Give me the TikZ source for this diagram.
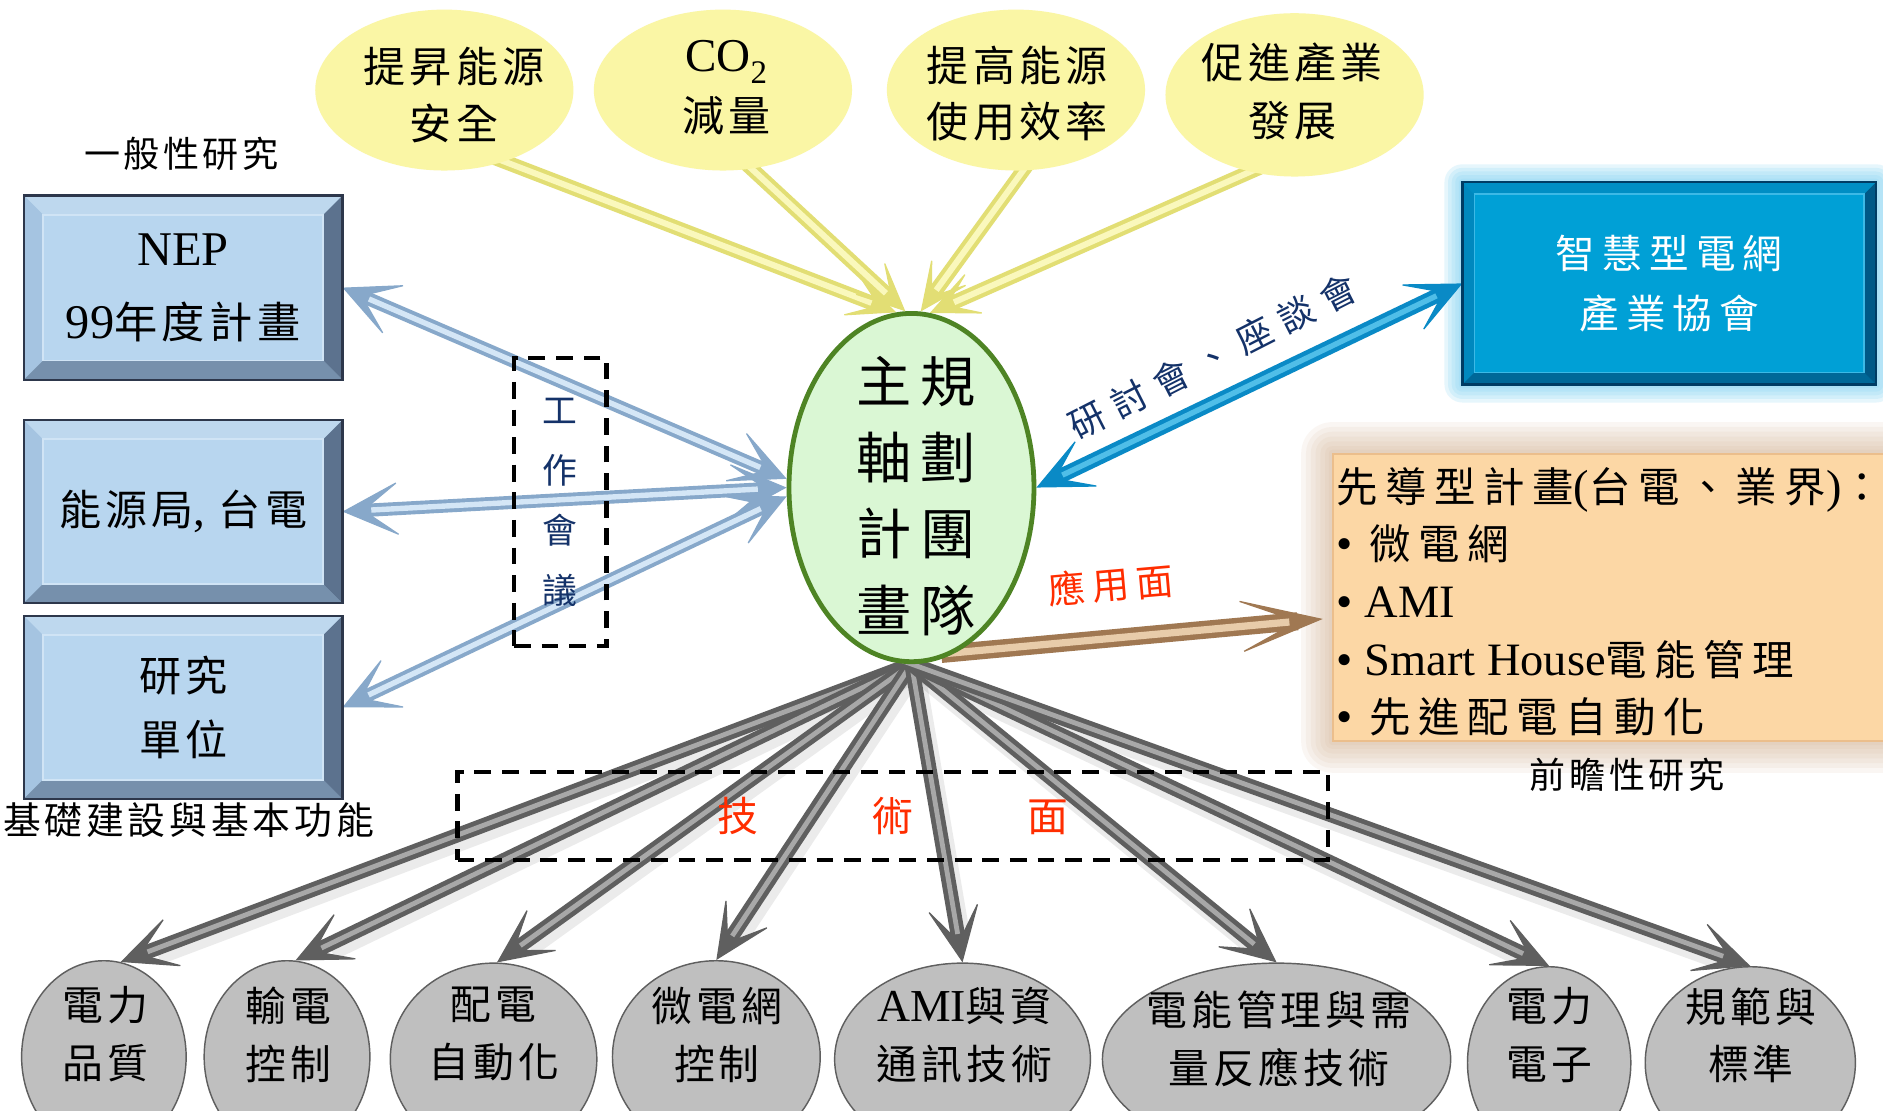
\documentclass[tikz,border=0pt]{standalone}
\usepackage{fontspec}
\setmainfont{Noto Sans CJK TC}[LetterSpace=10]
\newfontfamily\lat{Liberation Serif}[Scale=1.12]
\usetikzlibrary{arrows.meta,shapes.geometric}
\pgfdeclarelayer{glow}
\pgfdeclarelayer{arrowlayer}
\pgfsetlayers{glow,arrowlayer,main}

\definecolor{ylfill}{RGB}{250,246,165}
\definecolor{ylarrow}{RGB}{226,222,116}
\definecolor{ylarrowin}{RGB}{250,248,188}
\definecolor{grfill}{RGB}{218,247,212}
\definecolor{grline}{RGB}{78,132,36}
\definecolor{bxfill}{RGB}{184,214,239}
\definecolor{bxtop}{RGB}{190,216,238}
\definecolor{bxleft}{RGB}{165,196,225}
\definecolor{bxbot}{RGB}{118,144,172}
\definecolor{bxright}{RGB}{92,114,142}
\definecolor{bxedge}{RGB}{45,55,75}
\definecolor{bxinner}{RGB}{208,228,245}
\definecolor{lbarrow}{RGB}{135,168,202}
\definecolor{lbarrowin}{RGB}{212,230,246}
\definecolor{sgfill}{RGB}{0,160,214}
\definecolor{sgtop}{RGB}{0,142,196}
\definecolor{sgleft}{RGB}{0,136,190}
\definecolor{sgbot}{RGB}{0,104,152}
\definecolor{sgright}{RGB}{0,88,134}
\definecolor{sgedge}{RGB}{0,60,100}
\definecolor{sginner}{RGB}{60,185,230}
\definecolor{sgglow}{RGB}{130,212,244}
\definecolor{bluearrow}{RGB}{10,138,198}
\definecolor{bluearrowin}{RGB}{80,190,232}
\definecolor{orfill}{RGB}{252,215,165}
\definecolor{orline}{RGB}{235,190,140}
\definecolor{orglow}{RGB}{205,165,130}
\definecolor{brarrow}{RGB}{160,120,82}
\definecolor{brarrowin}{RGB}{232,204,170}
\definecolor{gyfill}{RGB}{191,191,191}
\definecolor{gyline}{RGB}{95,95,95}
\definecolor{gyarrow}{RGB}{95,95,95}
\definecolor{gyarrowin}{RGB}{168,168,168}
\definecolor{redtxt}{RGB}{255,45,0}
\definecolor{navytxt}{RGB}{20,50,105}

\newcommand\fs[2]{\fontsize{#1}{#2}\selectfont}
% bevel frame: node, width, top, left, bottom, right, outer edge, inner edge
\newcommand\bevel[8]{%
  \fill[#3] (#1.north west) -- (#1.north east) -- ([shift={(-#2,#2)}]#1.north east) -- ([shift={(#2,#2)}]#1.north west) -- cycle;
  \fill[#4] (#1.north west) -- ([shift={(#2,#2)}]#1.north west) -- ([shift={(#2,-#2)}]#1.south west) -- (#1.south west) -- cycle;
  \fill[#5] (#1.south west) -- ([shift={(#2,-#2)}]#1.south west) -- ([shift={(-#2,-#2)}]#1.south east) -- (#1.south east) -- cycle;
  \fill[#6] (#1.south east) -- ([shift={(-#2,-#2)}]#1.south east) -- ([shift={(-#2,#2)}]#1.north east) -- (#1.north east) -- cycle;
  \draw[#8, line width=1.5pt] ([shift={(#2,#2)}]#1.north west) rectangle ([shift={(-#2,-#2)}]#1.south east);
  \draw[#7, line width=2pt] (#1.north west) rectangle (#1.south east);
}

\tikzset{
  txt/.style={inner sep=0pt, align=center},
  yell/.style={ellipse, fill=ylfill, inner sep=0pt, minimum width=215pt, minimum height=134pt},
  gyell/.style={ellipse, fill=gyfill, draw=gyline, line width=1.2pt, inner sep=0pt, minimum height=160pt},
  bluebox/.style={rectangle, fill=bxfill, inner sep=0pt, minimum width=265pt, minimum height=153pt, align=center},
  dashbox/.style={rectangle, draw=black, line width=3.5pt, dash pattern=on 14pt off 9pt, inner sep=0pt, align=center},
  gytxt/.style={txt, font=\fs{34}{48}},
  gytip/.tip={Stealth[length=50pt,width=46pt,inset=32pt,line width=1pt]},
  gyout/.style={draw=gyarrow, fill=gyarrow, line width=12pt, shorten <=-12pt, -gytip},
  gyin/.style={draw=gyarrowin, line width=4pt, shorten <=-12pt, shorten >=24pt},
  gyshadow/.style={draw=black, opacity=.08, line width=16pt, shorten >=30pt},
  yltip/.tip={Stealth[length=44pt,width=40pt,inset=28pt,line width=1pt]},
  ylout/.style={draw=ylarrow, fill=ylarrow, line width=12pt, shorten <=-12pt, -yltip},
  ylin/.style={draw=ylarrowin, line width=5pt, shorten <=-12pt, shorten >=22pt},
  lbtip/.tip={Stealth[length=50pt,width=48pt,inset=32pt,line width=1pt]},
  lbout/.style={draw=lbarrow, fill=lbarrow, line width=11pt, lbtip-lbtip},
  lbin/.style={draw=lbarrowin, line width=4.5pt, shorten <=24pt, shorten >=24pt},
  bltip/.tip={Stealth[length=50pt,width=46pt,inset=32pt,line width=1pt]},
  blout/.style={draw=bluearrow, fill=bluearrow, line width=12pt, bltip-bltip},
  blin/.style={draw=bluearrowin, line width=4.5pt, shorten <=24pt, shorten >=24pt},
  brtip/.tip={Stealth[length=76pt,width=48pt,inset=54pt,line width=1pt]},
  brout/.style={draw=brarrow, fill=brarrow, line width=15pt, shorten <=-12pt, shorten >=8pt, -brtip},
  brin/.style={draw=brarrowin, line width=6pt, shorten <=-12pt, shorten >=36pt},
}

\begin{document}
\begin{tikzpicture}[x=1pt,y=-1pt]
\useasboundingbox (0,0) rectangle (1568,925);

% ---------- yellow goals ----------
\node[yell] (e1) at (370,75) {};
\node[yell] (e2) at (602,75) {};
\node[yell] (e3) at (846,75) {};
\node[yell, minimum height=136pt] (e4) at (1078,79) {};
\node[txt, font=\fs{35}{47}] (e1t) at (378,79) {提昇能源\\安全};
\node[txt, font=\fs{35}{50}] (e2t) at (605,73) {{\lat CO\textsubscript{2}}\\減量};
\node[txt, font=\fs{35}{46}] (e3t) at (847,78) {提高能源\\使用效率};
\node[txt, font=\fs{35}{48}] (e4t) at (1076,76) {促進產業\\發展};

% ---------- central team ----------
\node[ellipse, fill=grfill, draw=grline, line width=4pt, inner sep=0pt, minimum width=204pt, minimum height=290pt] (team) at (759,406) {};
\node[txt, font=\fs{46}{63.5}\addfontfeature{LetterSpace=16}] (teamt) at (763,413) {主規\\軸劃\\計團\\畫隊};

% ---------- left boxes ----------
\node[bluebox, font=\fs{36}{61}] (nep) at (152.5,239.5) {{\lat NEP}\\{\lat 99}年度計畫};
\bevel{nep}{16}{bxtop}{bxleft}{bxbot}{bxright}{bxedge}{bxinner}
\node[bluebox, minimum height=152pt, font=\fs{35}{50}] (eb) at (152.5,426) {能源局{\lat,} 台電};
\bevel{eb}{16}{bxtop}{bxleft}{bxbot}{bxright}{bxedge}{bxinner}
\node[bluebox, minimum height=152pt, font=\fs{35}{53}] (ru) at (152.5,589) {研究\\單位};
\bevel{ru}{16}{bxtop}{bxleft}{bxbot}{bxright}{bxedge}{bxinner}
\node[txt, font=\fs{30}{32}] (lab1) at (151,128) {一般性研究};
\node[txt, font=\fs{31.5}{33}] (lab2) at (157,683) {基礎建設與基本功能};

% ---------- smart grid association ----------
\node[rectangle, fill=sgfill, inner sep=0pt, minimum width=344pt, minimum height=168pt, text=white, align=center, font=\fs{33}{50}\addfontfeature{LetterSpace=18}] (sg) at (1390,236) {智慧型電網\\產業協會};
\bevel{sg}{10}{sgtop}{sgleft}{sgbot}{sgright}{sgedge}{sginner}

% ---------- pilot projects ----------
\node[rectangle, fill=orfill, draw=orline, line width=1pt, inner sep=0pt, minimum width=490pt, minimum height=239pt] (pilot) at (1355,497.5) {};
\node[txt, align=left, anchor=west, font=\fs{34.5}{48}\addfontfeature{LetterSpace=18}] (pilott) at (1113,501)
  {先導型計畫{\lat (}台電、業界{\lat )}：\\
   {\lat\textbullet} 微電網\\
   {\lat\textbullet\ AMI}\\
   {\lat\textbullet\ Smart House}電能管理\\
   {\lat\textbullet} 先進配電自動化};
\node[txt, font=\fs{30}{31}] (lab3) at (1355,645) {前瞻性研究};

% ---------- dashed groups and labels ----------
\node[dashbox, minimum width=77pt, minimum height=240pt, text=navytxt, font=\fs{29}{50}] (wm) at (466.5,418) {工\\作\\會\\議};
\node[dashbox, minimum width=725pt, minimum height=73pt, text=redtxt, font=\fs{34}{35}] (tech) at (743.5,679.5) {技\hspace{95pt}術\hspace{95pt}面};
\node[txt, rotate=27, text=navytxt, font=\fs{30}{31}\addfontfeature{LetterSpace=30}] (semi) at (1010,297) {研討會、座談會};
\node[txt, rotate=5, text=redtxt, font=\fs{31}{33}\addfontfeature{LetterSpace=18}] (appl) at (925,487) {應用面};

% ---------- technology ellipses ----------
\node[gyell, minimum width=137pt] (g1) at (86.5,880) {};
\node[gyell, minimum width=138pt] (g2) at (239,880) {};
\node[gyell, minimum width=172pt] (g3) at (411,882) {};
\node[gyell, minimum width=173pt] (g4) at (596.5,880) {};
\node[gyell, minimum width=213pt] (g5) at (801.5,882) {};
\node[gyell, minimum width=290pt] (g6) at (1063,882) {};
\node[gyell, minimum width=136pt] (g7) at (1290,885) {};
\node[gyell, minimum width=175pt] (g8) at (1457.5,885) {};
\node[gytxt] (g1t) at (88,861) {電力\\品質};
\node[gytxt] (g2t) at (240,862) {輸電\\控制};
\node[gytxt] (g3t) at (411,861) {配電\\自動化};
\node[gytxt] (g4t) at (597,862) {微電網\\控制};
\node[gytxt] (g5t) at (803,862) {{\lat AMI}與資\\通訊技術};
\node[gytxt] (g6t) at (1065,865) {電能管理與需\\量反應技術};
\node[gytxt] (g7t) at (1290,862) {電力\\電子};
\node[gytxt] (g8t) at (1458,862) {規範與\\標準};

% ---------- glows ----------
\begin{pgfonlayer}{glow}
  \fill[white] (0,0) rectangle (1568,925);
  \foreach \o in {15,12,9,6,3}{
    \fill[sgglow, opacity=.2, rounded corners=\o pt] ([shift={(-\o,-\o)}]sg.north west) rectangle ([shift={(\o,\o)}]sg.south east);
  }
  \foreach \o in {26,22,18,14,10,6,3}{
    \fill[orglow, opacity=.09, rounded corners=\o pt] ([shift={(-\o,-\o)}]pilot.north west) rectangle ([shift={(\o,\o)}]pilot.south east);
  }
\end{pgfonlayer}

% ---------- connectors ----------
\begin{pgfonlayer}{arrowlayer}
  \foreach \g/\a in {g1/80,g2/85,g3/88,g4/90,g5/90,g6/90,g7/90,g8/90}{
    \draw[gyshadow] ([shift={(3,5)}]team.south) -- ([shift={(3,5)}]\g.\a);
  }
  \foreach \g/\a in {g1/80,g2/85,g3/88,g4/90,g5/90,g6/90,g7/90,g8/90}{
    \draw[gyout] (team.south) -- (\g.\a);
    \draw[gyin] (team.south) -- (\g.\a);
  }
  \foreach \e/\s/\a in {e1/-50/95,e2/-70/92,e3/-85/87,e4/-120/84}{
    \draw[ylout] (\e.\s) -- (team.\a);
    \draw[ylin] (\e.\s) -- (team.\a);
  }
  \draw[lbout] (nep.east) -- (team.176);
  \draw[lbin] (nep.east) -- (team.176);
  \draw[lbout] (eb.east) -- (team.180);
  \draw[lbin] (eb.east) -- (team.180);
  \draw[lbout] (ru.east) -- (team.184);
  \draw[lbin] (ru.east) -- (team.184);
  \draw[blout] (team.east) -- (sg.west);
  \draw[blin] (team.east) -- (sg.west);
  \draw[brout] (team.-75) -- (pilot.184);
  \draw[brin] (team.-75) -- (pilot.184);
\end{pgfonlayer}
\end{tikzpicture}
\end{document}
